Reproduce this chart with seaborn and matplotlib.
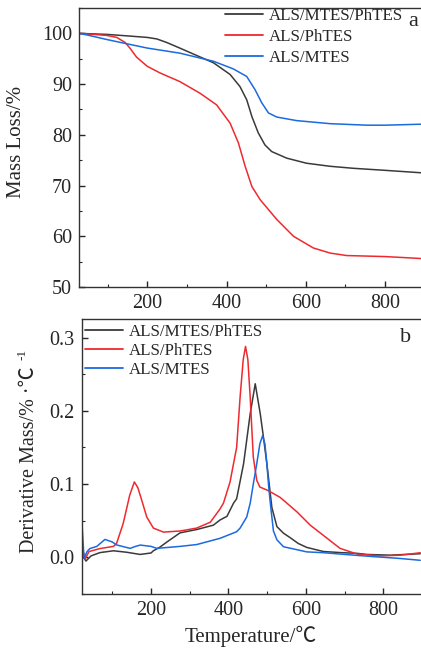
import numpy as np
import pandas as pd
import matplotlib
matplotlib.use("Agg")
import matplotlib.pyplot as plt
from matplotlib.ticker import MultipleLocator, FormatStrFormatter
import seaborn as sns

labels = ["ALS/MTES/PhTES", "ALS/PhTES", "ALS/MTES"]
colors = ["#3a3a3a", "#ee2a2e", "#1a6ae0"]

# TG curves (mass loss, %)
tg_black_t = [27, 97, 150, 200, 224, 249, 282, 320, 367, 409, 434, 451, 464, 480, 497, 514, 552, 602, 661, 720, 800, 895]
tg_black_v = [100, 99.8, 99.5, 99.2, 98.9, 98.2, 97.1, 95.8, 94.2, 91.9, 89.5, 86.9, 83.6, 80.4, 78.0, 76.7, 75.4, 74.4, 73.8, 73.4, 73.0, 72.5]
tg_red_t = [27, 97, 123, 144, 156, 173, 200, 232, 282, 333, 375, 409, 430, 447, 464, 485, 527, 569, 619, 661, 703, 800, 895]
tg_red_v = [100, 99.6, 99.2, 98.2, 97.1, 95.3, 93.5, 92.2, 90.5, 88.2, 85.9, 82.3, 78.4, 73.8, 69.8, 67.2, 63.3, 60.0, 57.7, 56.7, 56.2, 56.0, 55.6]
tg_blue_t = [27, 47, 97, 139, 200, 282, 367, 417, 451, 472, 489, 506, 527, 577, 661, 754, 800, 895]
tg_blue_v = [100, 99.7, 98.8, 98.1, 97.1, 96.1, 94.5, 93.0, 91.5, 88.9, 86.3, 84.3, 83.5, 82.8, 82.2, 81.9, 81.9, 82.1]

# DTG curves (derivative mass, %/°C)
dtg_black_t = [22, 32, 45, 68, 103, 137, 172, 200, 206, 223, 241, 275, 318, 361, 378, 396, 413, 421, 439, 447, 456, 469,
               482, 490, 499, 512, 525, 542, 559, 580, 602, 645, 690, 732, 757, 818, 895]
dtg_black_v = [0.003, -0.005, 0.002, 0.0065, 0.009, 0.007, 0.004, 0.006, 0.009, 0.014, 0.021, 0.0335, 0.038, 0.044, 0.051,
               0.056, 0.074, 0.080, 0.128, 0.160, 0.196, 0.237, 0.196, 0.165, 0.128, 0.068, 0.042, 0.033, 0.027, 0.019,
               0.0136, 0.008, 0.0065, 0.0055, 0.004, 0.003, 0.005]
dtg_red_t = [22, 30, 40, 68, 103, 111, 128, 145, 157, 166, 176, 189, 206, 232, 275, 318, 353, 378, 387, 404, 413, 421, 430,
             438, 444, 450, 456, 464, 473, 481, 499, 508, 533, 542, 577, 611, 645, 688, 732, 792, 844, 895]
dtg_red_v = [0.014, -0.002, 0.008, 0.012, 0.015, 0.019, 0.046, 0.085, 0.103, 0.095, 0.078, 0.055, 0.040, 0.0345, 0.036,
             0.040, 0.048, 0.066, 0.074, 0.103, 0.128, 0.150, 0.219, 0.270, 0.288, 0.270, 0.219, 0.137, 0.105, 0.096,
             0.092, 0.0895, 0.082, 0.078, 0.062, 0.044, 0.030, 0.0123, 0.0045, 0.002, 0.003, 0.0063]
dtg_blue_t = [22, 27, 35, 42, 60, 81, 100, 111, 146, 160, 172, 200, 215, 275, 318, 378, 421, 430, 447, 456, 464, 473, 481,
              488, 494, 499, 504, 508, 516, 525, 542, 568, 602, 645, 700, 775, 843, 895]
dtg_blue_v = [0.044, -0.001, 0.008, 0.012, 0.015, 0.0245, 0.021, 0.017, 0.0123, 0.015, 0.0168, 0.015, 0.0123, 0.015,
              0.0175, 0.026, 0.035, 0.040, 0.055, 0.074, 0.100, 0.128, 0.155, 0.166, 0.155, 0.128, 0.095, 0.074, 0.036,
              0.024, 0.0145, 0.0115, 0.0075, 0.0064, 0.004, 0.001, -0.0015, -0.004]


def frame(series):
    parts = []
    for name, (t, v) in zip(labels, series):
        parts.append(pd.DataFrame({"T": t, "val": v, "sample": name}))
    return pd.concat(parts, ignore_index=True)


tg = frame([(tg_black_t, tg_black_v), (tg_red_t, tg_red_v), (tg_blue_t, tg_blue_v)])
dtg = frame([(dtg_black_t, dtg_black_v), (dtg_red_t, dtg_red_v), (dtg_blue_t, dtg_blue_v)])

sns.set_style("ticks")
plt.rcParams["font.family"] = "serif"
plt.rcParams["font.serif"] = ["Liberation Serif"]
plt.rcParams["axes.edgecolor"] = "#333333"
plt.rcParams["axes.linewidth"] = 1.0
cjk = ["Liberation Serif", "Noto Sans CJK SC"]

fig = plt.figure(figsize=(4.21, 6.5), dpi=100)
W, H = 421, 650
ax1 = fig.add_axes([79 / W, (H - 287) / H, (W - 79) / W, 279 / H])
ax2 = fig.add_axes([81.7 / W, (H - 594) / H, (W - 81.7) / W, 274.7 / H])

palette = dict(zip(labels, colors))
sns.lineplot(data=tg, x="T", y="val", hue="sample", palette=palette, sort=False,
             estimator=None, lw=1.1, ax=ax1, legend=False)
sns.lineplot(data=dtg, x="T", y="val", hue="sample", palette=palette, sort=False,
             estimator=None, lw=1.1, ax=ax2, legend=False)

ax1.set_xlim(27.5, 891)
ax1.set_ylim(50, 105)
ax1.yaxis.set_major_locator(MultipleLocator(10))
ax1.yaxis.set_minor_locator(MultipleLocator(5))
ax2.set_xlim(21, 897)
ax2.set_ylim(-0.05, 0.325)
ax2.yaxis.set_major_locator(MultipleLocator(0.1))
ax2.yaxis.set_minor_locator(MultipleLocator(0.05))
ax2.yaxis.set_major_formatter(FormatStrFormatter("%.1f"))

for ax in (ax1, ax2):
    ax.xaxis.set_major_locator(MultipleLocator(200))
    ax.xaxis.set_minor_locator(MultipleLocator(100))
    ax.spines["right"].set_visible(False)
    ax.tick_params(which="major", direction="in", length=4, width=1, labelsize=14.5, pad=5)
    ax.tick_params(which="minor", direction="in", length=2.5, width=0.8)
    ax.tick_params(right=False, top=False)
    ax.set_xlabel("")
    ax.set_ylabel("")
    for lab, c in zip(labels, colors):
        ax.plot([], [], color=c, lw=1.3, label=lab)

# axis titles placed in figure pixels
fig.text(17 / W, 1 - 142 / H, "Mass Loss/%", fontsize=15, rotation=90, ha="center", va="center")
fig.text(251 / W, 1 - 636 / H, "Temperature/℃", fontsize=15, ha="center", va="center", family=cjk)
fig.text(30 / W, 1 - 460 / H, "Derivative Mass/% ·℃", fontsize=14.5, rotation=90, ha="center", va="center", family=cjk)
fig.text(23 / W, 1 - 354 / H, "-1", fontsize=9.5, rotation=90, ha="center", va="center")

ax1.legend(loc="upper left", bbox_to_anchor=(225 / W, 1 - 8 / H), bbox_transform=fig.transFigure,
           frameon=False, fontsize=12.2, handlelength=2.25, handletextpad=0.35,
           labelspacing=0.3, borderpad=0, borderaxespad=0)
ax2.legend(loc="upper left", bbox_to_anchor=(85 / W, 1 - 324 / H), bbox_transform=fig.transFigure,
           frameon=False, fontsize=12.2, handlelength=2.25, handletextpad=0.35,
           labelspacing=0.18, borderpad=0, borderaxespad=0)

fig.text(413 / W, 1 - 22 / H, "a", fontsize=16, ha="center", va="center")
fig.text(406 / W, 1 - 338 / H, "b", fontsize=16, ha="center", va="center")

fig.savefig("out.png", dpi=100)
